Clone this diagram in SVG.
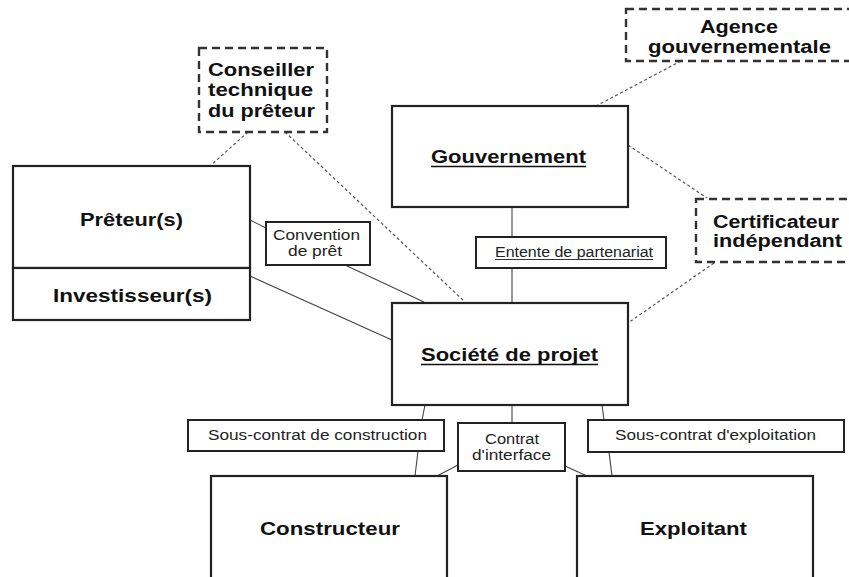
<svg xmlns="http://www.w3.org/2000/svg" width="849" height="577" viewBox="0 0 849 577">
  <style>
    .box { fill: #fff; stroke: #222; stroke-width: 2.2; }
    .dbox { fill: #fff; stroke: #333; stroke-width: 2.4; stroke-dasharray: 8 5; }
    .lbl { fill: #fff; stroke: #222; stroke-width: 2; }
    .ln { stroke: #444; stroke-width: 1.1; fill: none; }
    .dl { stroke: #555; stroke-width: 1.2; stroke-dasharray: 3 2.5; fill: none; }
    .ul { stroke: #111; stroke-width: 1.6; }
    .b { font-family: "Liberation Sans", Arial, sans-serif; font-weight: bold; font-size: 18px; fill: #111; }
    .s { font-family: "Liberation Sans", Arial, sans-serif; font-size: 14px; fill: #222; }
  </style>
  <rect width="849" height="577" fill="#fff"/>

  <!-- connectors -->
  <g id="connectors">
    <!-- dashed advisory links -->
    <line class="dl" x1="248" y1="132" x2="210" y2="166"/>
    <line class="dl" x1="285" y1="132" x2="465" y2="302"/>
    <line class="dl" x1="681" y1="61" x2="596" y2="106"/>
    <line class="dl" x1="628" y1="145" x2="707" y2="198"/>
    <line class="dl" x1="714" y1="263" x2="628" y2="323"/>
    <!-- contractual links -->
    <line class="ln" x1="250" y1="220" x2="266" y2="228"/>
    <line class="ln" x1="345" y1="265" x2="424" y2="302"/>
    <line class="ln" x1="250" y1="276" x2="392" y2="340"/>
    <line class="ln" x1="512" y1="207" x2="512" y2="237"/>
    <line class="ln" x1="512" y1="268" x2="512" y2="303"/>
    <line class="ln" x1="425" y1="405" x2="422" y2="420"/>
    <line class="ln" x1="418" y1="451" x2="415" y2="476"/>
    <line class="ln" x1="512" y1="405" x2="512" y2="423"/>
    <line class="ln" x1="458" y1="465" x2="437" y2="476"/>
    <line class="ln" x1="565" y1="466" x2="587" y2="476"/>
    <line class="ln" x1="602" y1="405" x2="604" y2="420"/>
    <line class="ln" x1="609" y1="452" x2="612" y2="476"/>
  </g>

  <!-- main parties -->
  <g id="preteurs">
    <rect class="box" x="13" y="166" width="237" height="102"/>
    <text class="b" x="80" y="226" textLength="103" lengthAdjust="spacingAndGlyphs">Prêteur(s)</text>
  </g>
  <g id="investisseurs">
    <rect class="box" x="13" y="268" width="237" height="52"/>
    <text class="b" x="53" y="302" textLength="159" lengthAdjust="spacingAndGlyphs">Investisseur(s)</text>
  </g>
  <g id="gouvernement">
    <rect class="box" x="392" y="106" width="236" height="101"/>
    <text class="b" x="431" y="163" textLength="155" lengthAdjust="spacingAndGlyphs">Gouvernement</text>
    <line class="ul" x1="431" y1="166.5" x2="586" y2="166.5"/>
  </g>
  <g id="societe">
    <rect class="box" x="392" y="303" width="236" height="102"/>
    <text class="b" x="421" y="361" textLength="177" lengthAdjust="spacingAndGlyphs">Société de projet</text>
    <line class="ul" x1="421" y1="364.5" x2="598" y2="364.5"/>
  </g>
  <g id="constructeur">
    <rect class="box" x="211" y="476" width="236" height="110"/>
    <text class="b" x="260" y="535" textLength="140" lengthAdjust="spacingAndGlyphs">Constructeur</text>
  </g>
  <g id="exploitant">
    <rect class="box" x="577" y="476" width="236" height="110"/>
    <text class="b" x="640" y="535" textLength="107" lengthAdjust="spacingAndGlyphs">Exploitant</text>
  </g>

  <!-- advisory parties (dashed) -->
  <g id="conseiller">
    <rect class="dbox" x="199" y="48" width="128" height="84"/>
    <text class="b" x="208" y="76" textLength="106" lengthAdjust="spacingAndGlyphs">Conseiller</text>
    <text class="b" x="208" y="96" textLength="105" lengthAdjust="spacingAndGlyphs">technique</text>
    <text class="b" x="208" y="117" textLength="107" lengthAdjust="spacingAndGlyphs">du prêteur</text>
  </g>
  <g id="agence">
    <rect class="dbox" x="626" y="9" width="230" height="52"/>
    <text class="b" x="700" y="33" textLength="78" lengthAdjust="spacingAndGlyphs">Agence</text>
    <text class="b" x="648" y="53" textLength="183" lengthAdjust="spacingAndGlyphs">gouvernementale</text>
  </g>
  <g id="certificateur">
    <rect class="dbox" x="696" y="199" width="160" height="63"/>
    <text class="b" x="713" y="228" textLength="126" lengthAdjust="spacingAndGlyphs">Certificateur</text>
    <text class="b" x="713" y="247" textLength="129" lengthAdjust="spacingAndGlyphs">indépendant</text>
  </g>

  <!-- contract labels -->
  <g id="convention-pret">
    <rect class="lbl" x="266" y="222" width="104" height="43"/>
    <text class="s" x="273" y="240" textLength="87" lengthAdjust="spacingAndGlyphs">Convention</text>
    <text class="s" x="288" y="256" textLength="54" lengthAdjust="spacingAndGlyphs">de prêt</text>
  </g>
  <g id="entente">
    <rect class="lbl" x="476" y="237" width="190" height="31"/>
    <text class="s" x="495" y="257" textLength="158" lengthAdjust="spacingAndGlyphs">Entente de partenariat</text>
    <line x1="495" y1="259.5" x2="653" y2="259.5" stroke="#333" stroke-width="1"/>
  </g>
  <g id="sous-contrat-construction">
    <rect class="lbl" x="188" y="420" width="256" height="31"/>
    <text class="s" x="208" y="440" textLength="219" lengthAdjust="spacingAndGlyphs">Sous-contrat de construction</text>
  </g>
  <g id="contrat-interface">
    <rect class="lbl" x="458" y="423" width="107" height="48"/>
    <text class="s" x="485" y="444" textLength="54" lengthAdjust="spacingAndGlyphs">Contrat</text>
    <text class="s" x="472" y="460" textLength="79" lengthAdjust="spacingAndGlyphs">d'interface</text>
  </g>
  <g id="sous-contrat-exploitation">
    <rect class="lbl" x="588" y="420" width="256" height="32"/>
    <text class="s" x="615" y="440" textLength="201" lengthAdjust="spacingAndGlyphs">Sous-contrat d'exploitation</text>
  </g>
</svg>
